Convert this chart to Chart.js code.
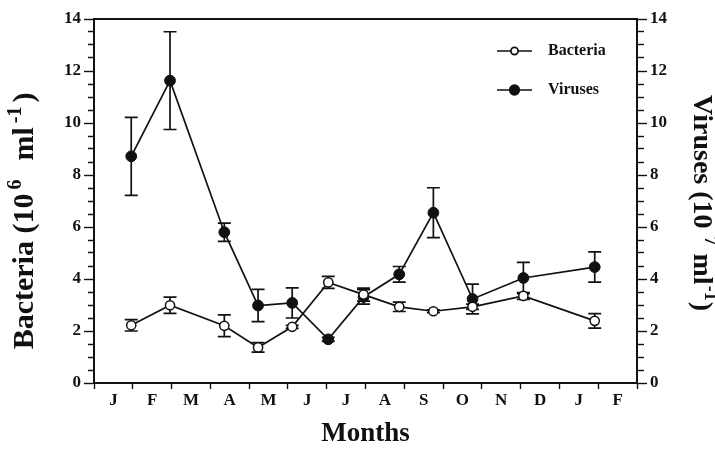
<!DOCTYPE html>
<html>
<head>
<meta charset="utf-8">
<script src="https://cdn.jsdelivr.net/npm/chart.js@4/dist/chart.umd.min.js"></script>
<style>
  html, body { margin: 0; padding: 0; background: #fff; }
  canvas { display: block; }
</style>
</head>
<body>
<canvas id="c" width="715" height="449"></canvas>
<script>
// Month labels along the bottom axis (Jan .. Feb of the following year)
const months = ['J', 'F', 'M', 'A', 'M', 'J', 'J', 'A', 'S', 'O', 'N', 'D', 'J', 'F'];

// Sampling dates, in months from the start of the first January
const sampleMonth = [0.96, 1.96, 3.36, 4.23, 5.11, 6.04, 6.95, 7.87, 8.75, 9.76, 11.07, 12.91];

// Bacterial abundance (10^6 ml^-1) and standard deviation
const bacteria    = [2.22, 2.99, 2.20, 1.37, 2.16, 3.87, 3.40, 2.93, 2.76, 2.93, 3.35, 2.39];
const bacteriaErr = [0.22, 0.31, 0.42, 0.18, 0.06, 0.23, 0.25, 0.18, 0.05, 0.10, 0.13, 0.28];

// Viral abundance (10^7 ml^-1) and standard deviation
const viruses    = [8.72, 11.63, 5.80, 2.98, 3.08, 1.68, 3.31, 4.18, 6.55, 3.23, 4.04, 4.46];
const virusesErr = [1.50, 1.88, 0.35, 0.62, 0.58, 0.08, 0.28, 0.30, 0.96, 0.57, 0.60, 0.58];

// Axis range shared by both vertical axes
const yMin = 0, yMax = 14, yMajor = 2, yMinor = 0.5;

// Axis titles with superscript parts: [text, isSuperscript]
const leftTitle  = [['Bacteria (10', false], ['6', true], ['  ml', false], ['-1', true], [')', false]];
const rightTitle = [['Viruses (10 ', false], ['7', true], [' ml', false], ['-1', true], [')', false]];

const INK = '#111';
const SERIF = "'Liberation Serif', 'Times New Roman', serif";

const toPoints = (vals) => vals.map((v, i) => ({ x: sampleMonth[i], y: v }));

// Vertical error bars with caps, placed through the chart's own scales
const errorBars = {
  id: 'errorBars',
  beforeDatasetsDraw(chart) {
    const ctx = chart.ctx;
    chart.data.datasets.forEach((ds, di) => {
      const meta = chart.getDatasetMeta(di);
      const yScale = chart.scales[ds.yAxisID];
      ctx.save();
      ctx.strokeStyle = INK;
      ctx.lineWidth = 1.7;
      meta.data.forEach((pt, i) => {
        const v = ds.data[i].y, e = ds.errors[i];
        const yHi = yScale.getPixelForValue(v + e);
        const yLo = yScale.getPixelForValue(v - e);
        const x = pt.x, cap = 6.5;
        ctx.beginPath();
        ctx.moveTo(x, yHi); ctx.lineTo(x, yLo);
        ctx.moveTo(x - cap, yHi); ctx.lineTo(x + cap, yHi);
        ctx.moveTo(x - cap, yLo); ctx.lineTo(x + cap, yLo);
        ctx.stroke();
      });
      ctx.restore();
    });
  }
};

// Legend inside the plot frame: line-through-marker swatch and bold label
const insideLegend = {
  id: 'insideLegend',
  afterDraw(chart) {
    const { ctx, chartArea } = chart;
    const x0 = chartArea.right - 140, x1 = chartArea.right - 105;
    const xm = (x0 + x1) / 2, xt = chartArea.right - 89;
    const rows = [chartArea.top + 32, chartArea.top + 71];
    const radii = [3.6, 4.8];
    ctx.save();
    chart.data.datasets.forEach((ds, i) => {
      const y = rows[i];
      ctx.strokeStyle = INK;
      ctx.lineWidth = 1.7;
      ctx.beginPath();
      ctx.moveTo(x0, y); ctx.lineTo(x1, y);
      ctx.stroke();
      ctx.beginPath();
      ctx.arc(xm, y, radii[i], 0, Math.PI * 2);
      ctx.fillStyle = ds.pointBackgroundColor;
      ctx.fill();
      ctx.stroke();
      ctx.fillStyle = INK;
      ctx.font = 'bold 16px ' + SERIF;
      ctx.textBaseline = 'middle';
      ctx.textAlign = 'left';
      ctx.fillText(ds.label, xt, y);
    });
    ctx.restore();
  }
};

// Rotated axis titles with raised, smaller exponents
function drawRichTitle(ctx, parts, size, supSize, rise, gap) {
  let x = 0;
  parts.forEach(([t, sup]) => {
    ctx.font = 'bold ' + (sup ? supSize : size) + 'px ' + SERIF;
    ctx.fillText(t, x, sup ? -rise : 0);
    x += ctx.measureText(t).width + gap;
  });
}
function richWidth(ctx, parts, size, supSize, gap) {
  let w = 0;
  parts.forEach(([t, sup]) => {
    ctx.font = 'bold ' + (sup ? supSize : size) + 'px ' + SERIF;
    w += ctx.measureText(t).width + gap;
  });
  return w - gap;
}
const axisTitles = {
  id: 'axisTitles',
  afterDraw(chart) {
    const { ctx, chartArea } = chart;
    const midY = (chartArea.top + chartArea.bottom) / 2;
    ctx.save();
    ctx.fillStyle = INK;
    ctx.textBaseline = 'middle';
    ctx.textAlign = 'left';

    // left: reads bottom to top
    const lw = richWidth(ctx, leftTitle, 30, 20, 4);
    ctx.save();
    ctx.translate(chart.scales.y.left + 25, midY + 20 + lw / 2);
    ctx.rotate(-Math.PI / 2);
    drawRichTitle(ctx, leftTitle, 30, 20, 9, 4);
    ctx.restore();

    // right: reads top to bottom
    const rw = richWidth(ctx, rightTitle, 28, 18, 1);
    ctx.save();
    ctx.translate(chart.scales.y2.right - 14, midY + 2 - rw / 2);
    ctx.rotate(Math.PI / 2);
    drawRichTitle(ctx, rightTitle, 28, 18, 9, 1);
    ctx.restore();

    ctx.restore();
  }
};

const isMajor = (v) => Math.abs(v / yMajor - Math.round(v / yMajor)) < 1e-6;

function verticalAxis(position) {
  return {
    type: 'linear',
    position: position,
    min: yMin, max: yMax,
    afterFit(scale) { scale.width = position === 'left' ? 94 : 78; },
    ticks: {
      stepSize: yMinor,
      autoSkip: false,
      padding: 3,
      color: INK,
      font: { family: SERIF, size: 17, weight: 'bold' },
      callback: (v) => (isMajor(v) ? String(v) : '')
    },
    grid: {
      drawOnChartArea: false,
      tickLength: 10,
      tickColor: INK,
      tickWidth: 1.4,
      // minor ticks are drawn shorter, hugging the axis line
      tickBorderDash: (c) => {
        if (c.tick && isMajor(c.tick.value)) return [];
        return position === 'left' ? [0, 4, 20] : [6, 20];
      }
    },
    border: { display: true, color: INK, width: 2 },
    title: { display: false }
  };
}

new Chart(document.getElementById('c'), {
  type: 'line',
  data: {
    datasets: [
      {
        label: 'Bacteria',
        data: toPoints(bacteria),
        errors: bacteriaErr,
        xAxisID: 'xv', yAxisID: 'y',
        borderColor: INK, borderWidth: 1.7,
        pointRadius: 4.6, pointBorderWidth: 1.5,
        pointBackgroundColor: '#fff', pointBorderColor: INK,
        tension: 0
      },
      {
        label: 'Viruses',
        data: toPoints(viruses),
        errors: virusesErr,
        xAxisID: 'xv', yAxisID: 'y2',
        borderColor: INK, borderWidth: 1.7,
        pointRadius: 5.4, pointBorderWidth: 1,
        pointBackgroundColor: INK, pointBorderColor: INK,
        tension: 0
      }
    ]
  },
  options: {
    responsive: false,
    animation: false,
    devicePixelRatio: 1,
    layout: { padding: 0 },
    plugins: { legend: { display: false }, tooltip: { enabled: false } },
    scales: {
      // month labels between tick marks
      x: {
        type: 'category',
        labels: months,
        position: 'bottom',
        offset: true,
        afterFit(scale) { scale.height = 66; },
        ticks: {
          padding: 1,
          color: INK,
          maxRotation: 0,
          autoSkip: false,
          font: { family: SERIF, size: 17, weight: 'bold' }
        },
        grid: { offset: true, drawOnChartArea: false, tickLength: 6, tickColor: INK, tickWidth: 1.4 },
        border: { display: true, color: INK, width: 2 },
        title: {
          display: true,
          text: 'Months',
          align: 'center',
          color: INK,
          font: { family: SERIF, size: 27, weight: 'bold', lineHeight: 1 },
          padding: { top: 0, bottom: 1 }
        }
      },
      // continuous month position used to place the sampling dates
      xv: { type: 'linear', min: 0, max: months.length, display: false },
      // upper frame line
      xTop: {
        type: 'linear', position: 'top', min: 0, max: months.length,
        afterFit(scale) { scale.height = 19; },
        ticks: { display: false },
        grid: { display: false },
        border: { display: true, color: INK, width: 2 }
      },
      y: verticalAxis('left'),
      y2: verticalAxis('right')
    }
  },
  plugins: [errorBars, insideLegend, axisTitles]
});
</script>
</body>
</html>
